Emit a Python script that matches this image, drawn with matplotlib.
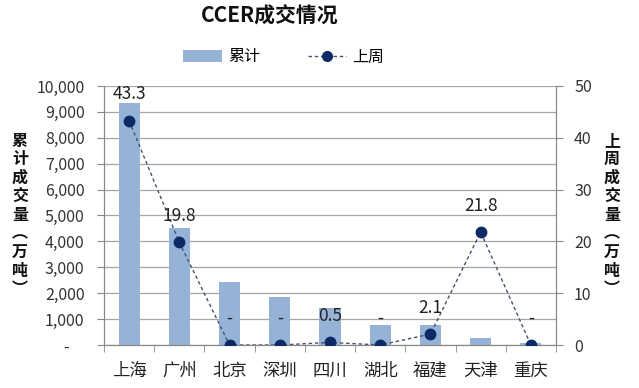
import matplotlib
matplotlib.use("Agg")
import matplotlib.pyplot as plt
from matplotlib.ticker import FuncFormatter
from matplotlib.lines import Line2D
from matplotlib.patches import Patch
import numpy as np

plt.rcParams['font.family'] = ['Noto Sans CJK SC', 'DejaVu Sans']

categories = ["上海", "广州", "北京", "深圳", "四川", "湖北", "福建", "天津", "重庆"]
cumulative = [9330, 4530, 2420, 1860, 1440, 770, 760, 280, 60]
last_week = [43.3, 19.8, 0, 0, 0.5, 0, 2.1, 21.8, 0]
left_ticks = [0, 1000, 2000, 3000, 4000, 5000, 6000, 7000, 8000, 9000, 10000]
right_ticks = [0, 10, 20, 30, 40, 50]

W, H = 639, 388
fig = plt.figure(figsize=(W / 100, H / 100), dpi=100)
ax = fig.add_axes([104 / W, 1 - 345 / H, (556 - 104) / W, (345 - 86) / H])
ax2 = ax.twinx()

x = np.arange(len(categories))
bar_color = "#95B3D7"
ax.bar(x, cumulative, width=0.42, color=bar_color, zorder=2)
ax.set_ylim(0, 10000)
ax.set_xlim(-0.5, len(categories) - 0.5)
ax.set_yticks(left_ticks)
ax.yaxis.set_major_formatter(FuncFormatter(lambda v, p: "-    " if v == 0 else f"{int(v):,}"))
ax.grid(axis='y', color="#A6A6A6", linewidth=0.9, zorder=0)
ax.set_axisbelow(True)
ax.set_xticks(x)
ax.set_xticklabels(categories)
ax.set_xticks(np.arange(-0.5, len(categories), 1), minor=True)
ax.tick_params(axis='x', which='major', length=0, labelsize=12.5, colors="#222222", pad=12)
ax.tick_params(axis='x', which='minor', length=5, color="#888888")
ax.tick_params(axis='y', length=5, color="#888888", labelsize=11.5, labelcolor="#333333", pad=9)

ax2.plot(x, last_week, linestyle=(0, (2.5, 2)), color="#44546A", linewidth=1.0,
         marker='o', markersize=7.5, markerfacecolor="#0B2A66", markeredgecolor="#0B2A66", zorder=3)
ax2.set_ylim(0, 50)
ax2.set_yticks(right_ticks)
ax2.tick_params(axis='y', length=5, color="#888888", labelsize=11.5, labelcolor="#333333", pad=8)

for xi, v in zip(x, last_week):
    label = "-" if v == 0 else f"{v:.1f}"
    ax2.annotate(label, (xi, v), xytext=(0, 19), textcoords="offset points",
                 ha='center', va='center', fontsize=12.5, color="#222222")

for a in (ax, ax2):
    a.spines['top'].set_visible(False)
    a.spines['left'].set_color("#888888")
    a.spines['right'].set_color("#888888")
    a.spines['bottom'].set_color("#888888")

fig.text(270 / W, 1 - 16 / H, "CCER成交情况", ha='center', va='center',
         fontsize=15, fontweight='bold', color="#111111")

handles = [Patch(facecolor=bar_color, edgecolor='none'),
           Line2D([0], [0], linestyle=(0, (2.5, 2)), color="#44546A", linewidth=1.0,
                  marker='o', markersize=7, markerfacecolor="#0B2A66", markeredgecolor="#0B2A66")]
fig.legend(handles, ["累计", "上周"], loc='center', bbox_to_anchor=(284 / W, 1 - 57 / H),
           ncol=2, frameon=False, fontsize=11.5, handlelength=2.4, handleheight=0.7,
           columnspacing=3.0, handletextpad=0.4)

left_label = "\n".join(list("累计成交量") + ["︵", "万", "吨", "︶"])
right_label = "\n".join(list("上周成交量") + ["︵", "万", "吨", "︶"])
fig.text(20 / W, 1 - 215 / H, left_label, ha='center', va='center', fontsize=11.5,
         fontweight='bold', linespacing=1.2, color="#111111")
fig.text(612 / W, 1 - 215 / H, right_label, ha='center', va='center', fontsize=11.5,
         fontweight='bold', linespacing=1.2, color="#111111")

fig.savefig("out.png", dpi=100, facecolor="white")
